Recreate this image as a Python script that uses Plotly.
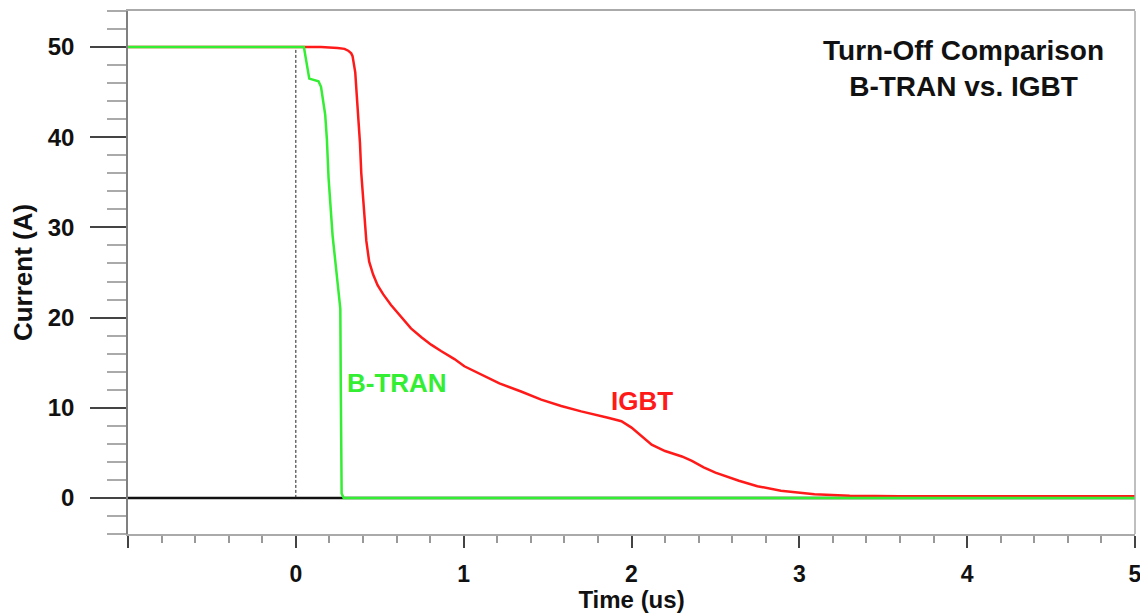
import plotly.graph_objects as go

# ---- data ----
btran_t = [-1.0, 0.048, 0.08, 0.135, 0.15, 0.165, 0.175, 0.185, 0.195, 0.219, 0.24,
           0.253, 0.265, 0.268, 0.273, 0.285, 5.0]
btran_i = [50.0, 50.0, 46.5, 46.2, 45.6, 43.9, 42.5, 39.8, 35.5, 29.1, 25.5,
           23.2, 21.0, 12.0, 0.5, 0.0, 0.0]

igbt_t = [-1.0, 0.05, 0.15, 0.249, 0.29, 0.312, 0.33, 0.338, 0.346, 0.354, 0.36,
          0.368, 0.382, 0.39, 0.408, 0.42, 0.437, 0.46, 0.487, 0.52, 0.567, 0.62,
          0.686, 0.75, 0.806, 0.865, 0.945, 1.004, 1.104, 1.213, 1.342, 1.462,
          1.581, 1.70, 1.86, 1.94, 2.0, 2.06, 2.12, 2.20, 2.30, 2.36, 2.43, 2.50,
          2.64, 2.75, 2.89, 3.09, 3.3, 3.6, 5.0]
igbt_i = [50.0, 50.0, 50.0, 49.9, 49.8, 49.6, 49.3, 49.0, 48.3, 47.2, 45.5,
          43.5, 39.4, 36.0, 31.0, 28.5, 26.2, 24.8, 23.6, 22.6, 21.4, 20.2,
          18.8, 17.8, 17.0, 16.3, 15.4, 14.6, 13.7, 12.7, 11.8, 10.9,
          10.2, 9.6, 8.9, 8.5, 7.8, 6.8, 5.9, 5.2, 4.6, 4.1, 3.4, 2.8,
          1.9, 1.3, 0.8, 0.4, 0.25, 0.2, 0.2]

turnoff_time = 0.0
x_tick_vals = [-1, 0, 1, 2, 3, 4, 5]
x_tick_text = ["", "0", "1", "2", "3", "4", "5"]
y_tick_vals = [0, 10, 20, 30, 40, 50]

GREEN = "#33ee33"
RED = "#ff1a1a"
FONT = "Liberation Sans"

fig = go.Figure()

# zero baseline
fig.add_trace(go.Scatter(x=[btran_t[0], btran_t[-1]], y=[0, 0], mode="lines",
                         line=dict(color="#111111", width=2.5), hoverinfo="skip"))
# turn-off instant marker
fig.add_trace(go.Scatter(x=[turnoff_time, turnoff_time], y=[0, igbt_i[0]], mode="lines",
                         line=dict(color="#222222", width=1, dash="3px,2px"), hoverinfo="skip"))
fig.add_trace(go.Scatter(x=igbt_t, y=igbt_i, mode="lines", name="IGBT",
                         line=dict(color=RED, width=2.5)))
fig.add_trace(go.Scatter(x=btran_t, y=btran_i, mode="lines", name="B-TRAN",
                         line=dict(color=GREEN, width=2.5)))

fig.add_annotation(x=0.6, y=12.8, text="B-TRAN", showarrow=False,
                   font=dict(family=FONT, size=26, color=GREEN, weight="bold"))
fig.add_annotation(x=2.06, y=10.8, text="IGBT", showarrow=False,
                   font=dict(family=FONT, size=26, color=RED, weight="bold"))
fig.add_annotation(x=3.98, y=47.6, text="Turn-Off Comparison<br>B-TRAN vs. IGBT",
                   showarrow=False, align="center",
                   font=dict(family=FONT, size=28, color="#111111", weight="bold"))

fig.add_shape(type="line", xref="paper", yref="paper", x0=1, x1=1, y0=0, y1=1,
              line=dict(color="#aaaaaa", width=1.5))

fig.update_layout(
    width=1140, height=605,
    margin=dict(l=120, r=13, t=1, b=76),
    paper_bgcolor="white", plot_bgcolor="white",
    showlegend=False,
    xaxis=dict(
        range=[-1, 5], tickmode="array", tickvals=x_tick_vals, ticktext=x_tick_text,
        ticks="outside", ticklen=12, tickwidth=2, tickcolor="#444444",
        minor=dict(dtick=0.2, ticks="outside", ticklen=7, tickwidth=1.5, tickcolor="#999999",
                   showgrid=False),
        showgrid=False, zeroline=False,
        showline=True, linecolor="#aaaaaa", linewidth=1.5, mirror=True,
        tickfont=dict(family=FONT, size=23, color="#111111", weight="bold"),
        ticklabelstandoff=7,
        title=dict(text="Time (us)", standoff=8,
                   font=dict(family=FONT, size=24, color="#111111", weight="bold")),
    ),
    yaxis=dict(
        range=[-4, 54], tickmode="array", tickvals=y_tick_vals,
        ticks="outside", ticklen=36, tickwidth=2, tickcolor="#444444",
        minor=dict(tick0=0, dtick=2, ticks="outside", ticklen=19, tickwidth=2,
                   tickcolor="#aaaaaa", showgrid=False),
        showgrid=False, zeroline=False,
        showline=True, linecolor="#808080", linewidth=1.5,
        tickfont=dict(family=FONT, size=24, color="#111111", weight="bold"),
        ticklabelstandoff=11,
        title=dict(text="Current (A)", standoff=10,
                   font=dict(family=FONT, size=26, color="#111111", weight="bold")),
    ),
)

fig.write_html("out.html")
